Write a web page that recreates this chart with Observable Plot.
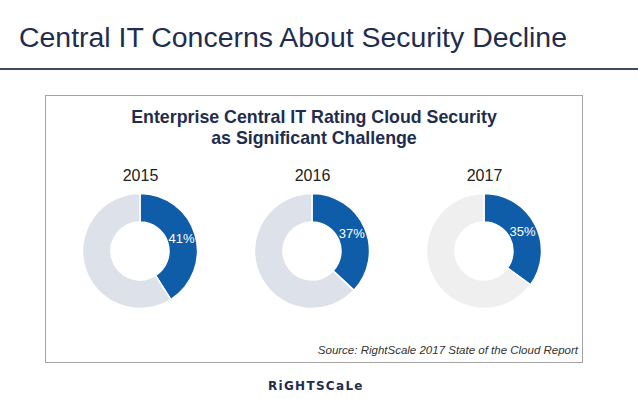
<!DOCTYPE html>
<html><head><meta charset="utf-8">
<script src="https://cdn.jsdelivr.net/npm/d3@7"></script>
<script src="https://cdn.jsdelivr.net/npm/@observablehq/plot@0.6"></script>
<style>
body{margin:0;width:638px;height:399px;position:relative;background:#fff;font-family:"Liberation Sans",Arial,sans-serif;overflow:hidden}
#title{position:absolute;left:19px;top:22.7px;font-size:27px;line-height:30px;color:#1f2d4e;white-space:nowrap;transform-origin:0 0}
#rule{position:absolute;left:0;top:68px;width:638px;height:2px;background:#3b4a60}
#box{position:absolute;left:45px;top:95px;width:536px;height:266px;border:1px solid #a3a3a3}
#ctitle{position:absolute;left:45px;width:538px;text-align:center;top:107.4px;font-size:17.8px;line-height:21px;font-weight:bold;color:#1f2d4e}
#chart{position:absolute;left:0;top:150px}
#source{position:absolute;right:60px;top:344px;font-size:11.5px;font-style:italic;color:#333;white-space:nowrap}
#logo{position:absolute;left:268px;top:379px;font-size:12px;font-weight:900;color:#1f2d4e;letter-spacing:1.3px;white-space:nowrap;font-family:"DejaVu Sans",sans-serif}
</style></head>
<body>
<div id="title">Central IT Concerns About Security Decline</div>
<div id="rule"></div>
<div id="box"></div>
<div id="ctitle">Enterprise Central IT Rating Cloud Security<br>as Significant Challenge</div>
<div id="chart"></div>
<div id="source">Source: RightScale 2017 State of the Cloud Report</div>
<div id="logo">RiGHTSCaLe</div>
<script>
const years = ["2015", "2016", "2017"];
const shares = [41, 37, 35];

const blue = "#0f5ca8";
const restFill = {"2015": "#dde2ea", "2016": "#dde2ea", "2017": "#efefef"};

const data = years.map((year, i) => ({year, share: shares[i]}));

function donuts(index, scales, values, dimensions, context) {
  const g = d3.create("svg:g");
  const arc = d3.arc().innerRadius(29).outerRadius(57.5);
  const cy = 101;
  data.forEach((d) => {
    const cx = scales.x(d.year);
    const pie = d3.pie().sort(null).value(v => v)([d.share, 100 - d.share]);
    const gg = g.append("g").attr("transform", `translate(${cx},${cy})`);
    gg.selectAll("path").data(pie).join("path")
      .attr("d", arc)
      .attr("fill", (p, j) => j === 0 ? blue : restFill[d.year])
      .attr("stroke", "#fff").attr("stroke-width", 1.5);
    const c = arc.centroid(pie[0]);
    gg.append("text").attr("x", c[0]).attr("y", c[1])
      .attr("text-anchor", "middle").attr("dy", "0.35em")
      .attr("fill", "#fff").attr("font-size", 13)
      .attr("font-family", "Liberation Sans, Arial, sans-serif")
      .text(d.share + "%");
  });
  return g.node();
}

const chart = Plot.plot({
  width: 638,
  height: 180,
  margin: 0,
  x: {type: "point", domain: years, range: [139.7, 484.5], padding: 0, axis: null},
  style: {fontFamily: "Liberation Sans, Arial, sans-serif", background: "transparent"},
  marks: [
    Plot.text(data, {x: "year", text: "year", frameAnchor: "top", lineAnchor: "middle", dy: 25, fontSize: 16, fill: "#222"}),
    donuts
  ]
});
document.getElementById("chart").appendChild(chart);

// fit title width to reference
const t = document.getElementById("title");
const w = t.getBoundingClientRect().width;
t.style.transform = `scaleX(${548 / w})`;
</script>
</body></html>
